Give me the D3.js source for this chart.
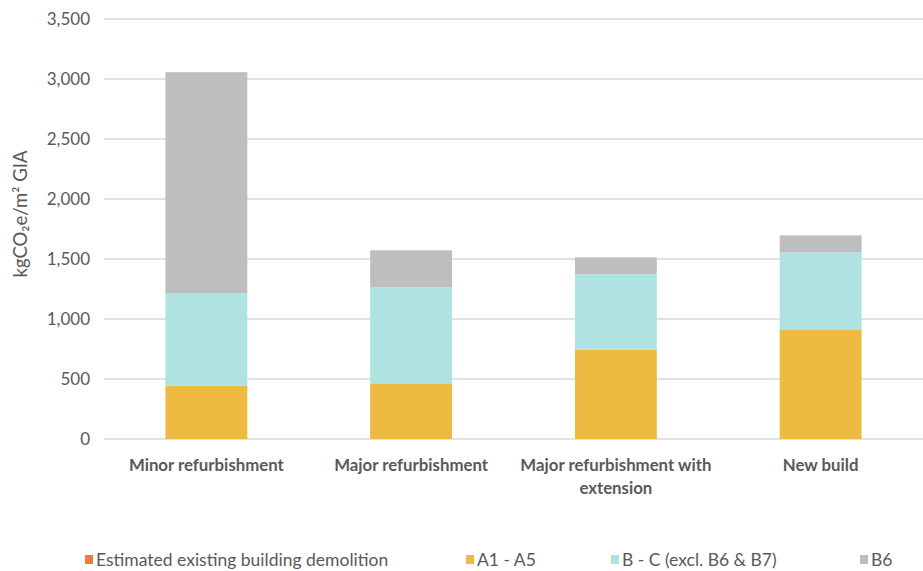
<!DOCTYPE html>
<html>
<head>
<meta charset="utf-8">
<script src="https://cdn.jsdelivr.net/npm/d3@7"></script>
<style>
  html, body { margin: 0; padding: 0; background: #fff; }
  svg { display: block; }
  text { font-family: "Lato", "Open Sans", sans-serif; }
</style>
</head>
<body>
<svg id="chart" width="923" height="571"></svg>
<script>
// ---- data ----
const categories = ["Minor refurbishment", "Major refurbishment", "Major refurbishment with extension", "New build"];
const categoryLines = [["Minor refurbishment"], ["Major refurbishment"], ["Major refurbishment with", "extension"], ["New build"]];
const seriesNames = ["Estimated existing building demolition", "A1 - A5", "B - C (excl. B6 & B7)", "B6"];
const demolition = [0, 0, 0, 0];
const a1a5 = [446, 464, 742, 908];
const bToC = [770, 800, 630, 648];
const b6 = [1841, 308, 142, 141];
const yTicks = [0, 500, 1000, 1500, 2000, 2500, 3000, 3500];
const yTitle = "kgCO\u2082e/m\u00B2 GIA";
const colors = ["#ED7D31", "#EDBB41", "#AFE3E2", "#BEBEBE"];

// ---- layout ----
const svg = d3.select("#chart");
const plot = { left: 104, right: 923, top: 19, bottom: 439 };

const x = d3.scaleBand().domain(categories).range([plot.left, plot.right]).paddingInner(0.6).paddingOuter(0.3);
const y = d3.scaleLinear().domain([0, 3500]).range([plot.bottom, plot.top]);

// gridlines
svg.append("g").selectAll("line").data(yTicks).join("line")
  .attr("x1", plot.left).attr("x2", plot.right)
  .attr("y1", d => y(d)).attr("y2", d => y(d))
  .attr("stroke", "#D9D9D9").attr("stroke-width", 1.5);

// y tick labels
const yAxis = d3.axisLeft(y).tickValues(yTicks).tickFormat(d3.format(",")).tickSize(0).tickPadding(0);
const yg = svg.append("g").attr("transform", `translate(90,0)`).call(yAxis);
yg.select(".domain").remove();
yg.selectAll("text").attr("font-family", "Lato, sans-serif").attr("font-size", 17).attr("fill", "#595959").attr("dy", "0.35em");

// y title
svg.append("text")
  .attr("transform", `translate(27,${(plot.top + plot.bottom) / 2 - 15}) rotate(-90)`)
  .attr("text-anchor", "middle")
  .attr("font-size", 18.5).attr("fill", "#595959")
  .text(yTitle);

// stacked data
const rows = categories.map((c, i) => ({ cat: c, s0: demolition[i], s1: a1a5[i], s2: bToC[i], s3: b6[i] }));
const stack = d3.stack().keys(["s0", "s1", "s2", "s3"]);
const layers = stack(rows);

svg.append("g").selectAll("g").data(layers).join("g")
  .attr("fill", (d, i) => colors[i])
  .selectAll("rect").data(d => d).join("rect")
  .attr("x", d => x(d.data.cat))
  .attr("width", x.bandwidth())
  .attr("y", d => y(d[1]))
  .attr("height", d => y(d[0]) - y(d[1]));

// category labels
const xl = svg.append("g");
categories.forEach((c, i) => {
  const t = xl.append("text")
    .attr("x", x(c) + x.bandwidth() / 2)
    .attr("y", 471)
    .attr("text-anchor", "middle")
    .attr("font-size", 16.8).attr("font-weight", "bold").attr("fill", "#595959");
  categoryLines[i].forEach((ln, j) => {
    t.append("tspan").attr("x", x(c) + x.bandwidth() / 2).attr("dy", j === 0 ? 0 : 23).text(ln);
  });
});

// legend
const legendX = [85, 466, 611, 860];
const lg = svg.append("g");
seriesNames.forEach((n, i) => {
  const g = lg.append("g").attr("transform", `translate(${legendX[i]},0)`);
  g.append("rect").attr("x", 0).attr("y", 555).attr("width", 8).attr("height", 9).attr("fill", colors[i]);
  g.append("text").attr("x", 11).attr("y", 566).attr("font-size", 17.5).attr("fill", "#595959").text(n);
});
</script>
</body>
</html>
